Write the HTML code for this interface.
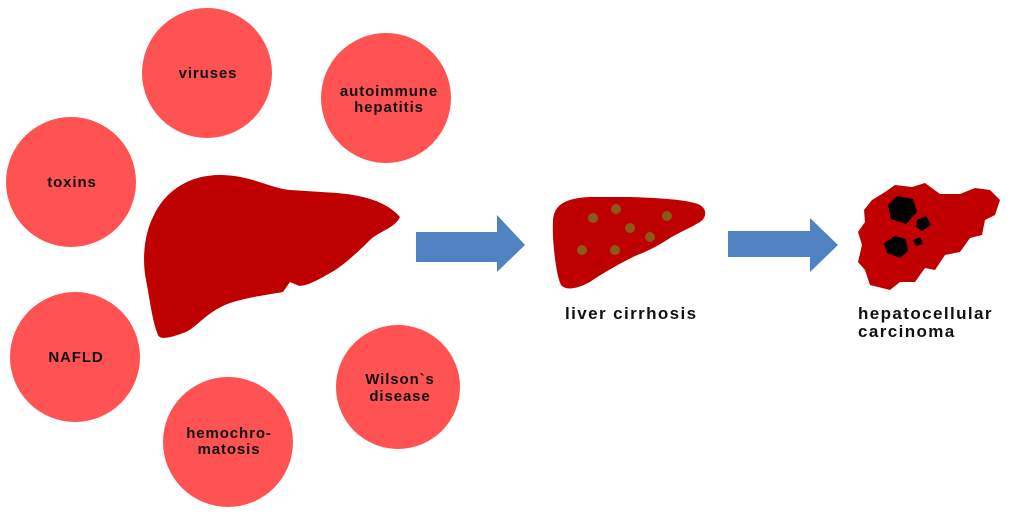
<!DOCTYPE html>
<html><head><style>
body{margin:0;background:#fff;}
svg text{font-family:"Liberation Sans",sans-serif;font-weight:bold;fill:#111;}
</style></head><body>
<svg width="1024" height="514" viewBox="0 0 1024 514">
<g fill="#ff5252">
<circle cx="207" cy="73" r="65"/>
<circle cx="386" cy="98" r="65"/>
<circle cx="71" cy="182" r="65"/>
<circle cx="75" cy="357" r="65"/>
<circle cx="398" cy="387" r="62"/>
<circle cx="228" cy="442" r="65"/>
</g>
<g font-size="15" text-anchor="middle" letter-spacing="0.9">
<text x="208" y="78">viruses</text>
<text x="389" y="96">autoimmune</text>
<text x="389" y="112">hepatitis</text>
<text x="72" y="187">toxins</text>
<text x="76" y="362">NAFLD</text>
<text x="400" y="384">Wilson`s</text>
<text x="400" y="401">disease</text>
<text x="229" y="438">hemochro-</text>
<text x="229" y="454">matosis</text>
</g>
<path fill="#bf0000" d="M153,217 C165,190 190,175 220,175 C250,175 270,188 290,190 L337,193 C360,195 385,200 400,217 C395,228 378,232 370,240 C355,255 340,268 330,273 C315,282 302,288 297,285 L290,282 L283,292 C260,296 245,298 230,303 C205,312 195,330 183,333 C170,338 160,340 158,335 C152,320 150,300 146,280 C142,260 144,235 153,217 Z"/>
<path fill="#5081c0" d="M416,232 H497 V215 L525,245 L497,272 V262 H416 Z"/>
<path fill="#5081c0" d="M728,231 H810 V218 L838,245 L810,272 V257 H728 Z"/>
<path fill="#bf0000" d="M553,222 C553,205 565,198 590,197 L630,197 C660,198 690,200 700,205 C708,210 706,218 700,222 C690,228 680,232 670,238 C655,248 645,252 635,256 C615,266 600,275 590,282 C575,290 565,290 561,285 C556,275 552,240 553,222 Z"/>
<g fill="#8a5a1a">
<circle cx="593" cy="218" r="5"/><circle cx="616" cy="209" r="5"/><circle cx="667" cy="216" r="5"/><circle cx="630" cy="228" r="5"/><circle cx="650" cy="237" r="5"/><circle cx="582" cy="250" r="5"/><circle cx="615" cy="250" r="5"/>
</g>
<path fill="#c00000" d="M872,200 L885,192 L895,185 L912,187 L925,183 L940,194 L960,194 L975,188 L990,190 L1000,200 L995,215 L985,220 L982,235 L970,238 L960,252 L945,255 L935,270 L925,268 L915,282 L900,282 L890,290 L870,285 L865,270 L858,262 L862,245 L858,232 L865,222 L864,210 Z"/>
<g fill="#000">
<path d="M888,205 L897,196 L913,199 L917,212 L906,224 L891,219 Z"/>
<path d="M917,220 L926,216 L931,225 L922,231 L916,227 Z"/>
<path d="M884,243 L895,236 L906,239 L908,251 L900,258 L887,253 Z"/>
<path d="M913,240 L920,237 L923,244 L916,246 Z"/>
</g>
<g font-size="17" letter-spacing="1.4">
<text x="565" y="319">liver cirrhosis</text>
<text x="858" y="319">hepatocellular</text>
<text x="858" y="337">carcinoma</text>
</g>
</svg>
</body></html>
